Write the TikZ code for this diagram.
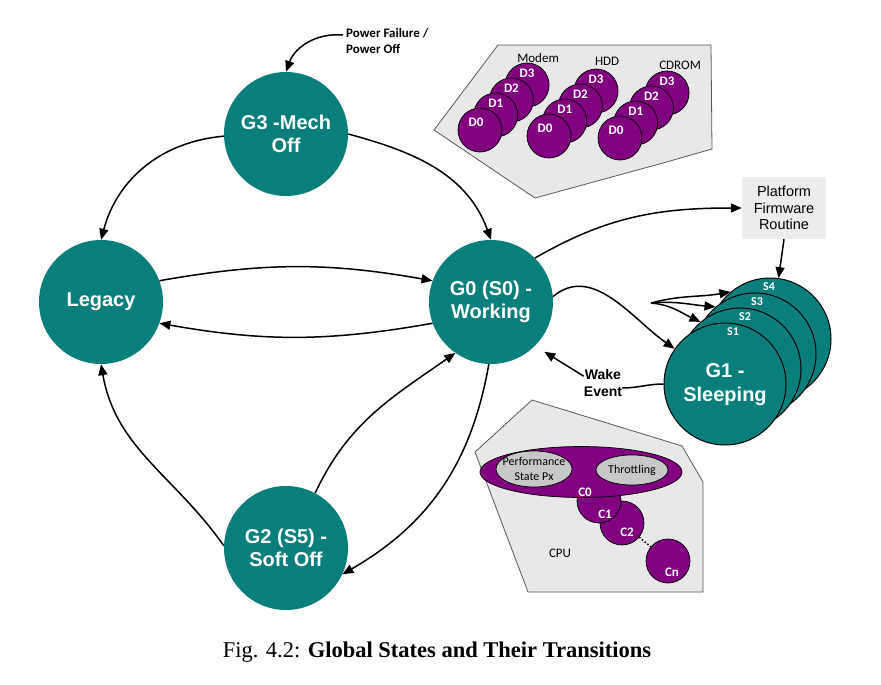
\documentclass[tikz,border=0pt]{standalone}
\usepackage{fontspec}
\setmainfont{Liberation Serif}
\newfontfamily\arialfont{Liberation Sans}
\newfontfamily\califont{Carlito}
\usetikzlibrary{arrows.meta,shapes.geometric,calc}

\definecolor{gteal}{RGB}{10,126,122}
\definecolor{dpurple}{RGB}{128,0,128}
\definecolor{panelgrey}{RGB}{232,232,232}
\definecolor{innergrey}{RGB}{200,200,200}
\definecolor{boxgrey}{RGB}{236,236,236}

\tikzset{
  gstate/.style={circle, fill=gteal, minimum size=124pt, inner sep=0pt, align=center,
    text=white, font=\arialfont\bfseries\fontsize{20}{23}\selectfont},
  sstate/.style={circle, draw=black, line width=1pt, fill=gteal, minimum size=122pt, inner sep=0pt},
  dstate/.style={circle, draw=black, line width=0.7pt, fill=dpurple, minimum size=44pt, inner sep=0pt},
  pstate/.style={ellipse, draw=black, line width=0.7pt, inner sep=0pt},
  wlabel/.style={text=white, inner sep=0pt, font=\califont\bfseries\fontsize{13}{15}\selectfont},
  blabel/.style={inner sep=0pt, font=\califont\fontsize{13}{15}\selectfont},
  panel/.style={draw=black!65, fill=panelgrey, line width=0.8pt},
  trans/.style={-{Triangle[length=11pt,width=9pt]}, line width=1.5pt},
}

\begin{document}
\begin{tikzpicture}[x=1pt,y=1pt]
\useasboundingbox (0,0) rectangle (881,-685);
\fill[white] (0,0) rectangle (881,-685);

% device power states
\draw[panel] (498,-45) -- (711,-45) -- (712,-149) -- (663,-163) -- (535,-198) -- (434,-130) -- cycle;
\foreach \grp/\x/\y in {modem/480/130, hdd/549/136, cdrom/620/138}{
  \foreach \k in {3,2,1,0}{
    \node[dstate] (\grp\k) at ({\x+15.7*\k},{-\y+15*\k}) {};
    \node[wlabel] at ($(\grp\k)+({-4+4*min(\k,1)},{8+4*min(\k,1)})$) {D\k};
  }
}
\node[blabel] at ($(modem3)+(11,27)$) {Modem};
\node[blabel] at ($(hdd3)+(11,30)$) {HDD};
\node[blabel] at ($(cdrom3)+(13,28)$) {CDROM};

% processor states
\draw[panel] (532,-400) -- (682,-446) -- (703,-482) -- (703,-592) -- (528,-592) -- (475,-452) -- cycle;
\node[dstate] (cn) at (668,-561) {};
\node[dstate] (c2) at (622,-523) {};
\node[dstate] (c1) at (599,-501) {};
\node[pstate, fill=dpurple, minimum width=202pt, minimum height=51pt] (c0) at (581,-472) {};
\node[pstate, fill=innergrey, minimum width=76pt, minimum height=36pt] (perf) at (534,-469) {};
\node[pstate, fill=innergrey, minimum width=72pt, minimum height=30pt] (throt) at (632,-470) {};
\node[blabel, align=center, font=\califont\fontsize{12}{15}\selectfont] at (perf) {Performance\\State Px};
\node[blabel, font=\califont\fontsize{12}{15}\selectfont] at (throt) {Throttling};
\node[wlabel] at ($(c0)+(4,-20)$) {C0};
\node[wlabel] at ($(c1)+(6,-13)$) {C1};
\node[wlabel] at ($(c2)+(5,-9)$) {C2};
\node[wlabel] at ($(cn)+(4,-11)$) {Cn};
\draw[dotted, line width=1.5pt] (c2) -- (cn);
\node[blabel] at (560,-553) {CPU};

% global states
\node[gstate] (g3) at (286,-134) {G3 -Mech\\Off};
\node[gstate] (legacy) at (101,-302) {Legacy};
\node[gstate] (g0) at (491,-302) {G0 (S0) -\\Working};
\node[gstate] (g2) at (286,-548) {G2 (S5) -\\Soft Off};

% sleeping states
\foreach \k in {4,3,2,1}{
  \node[sstate] (s\k) at ({725+15*(\k-1)},{-384+15*(\k-1)}) {};
  \node[wlabel, font=\califont\bfseries\fontsize{12}{14}\selectfont] at ($(s\k)+({11-3*\k},52)$) {S\k};
}
\node[text=white, align=center, font=\arialfont\bfseries\fontsize{20}{24}\selectfont] (g1) at (725,-385) {G1 -\\Sleeping};

\node[fill=boxgrey, minimum width=84pt, minimum height=62pt, inner sep=0pt, align=center,
  font=\arialfont\fontsize{14.5}{16.5}\selectfont] (plat) at (784,-208) {Platform\\Firmware\\Routine};
\node[align=center, inner sep=0pt, font=\arialfont\bfseries\fontsize{14}{17}\selectfont] (wake) at (603,-383) {Wake\\Event};
\node[align=left, inner sep=0pt, anchor=west, font=\califont\bfseries\fontsize{13}{16}\selectfont] (pwr) at (346,-41) {Power Failure /\\Power Off};
\coordinate (fan) at (651,-303);

% transitions
\draw[trans] ([shift={(-3,6)}]pwr.west) to[out=175,in=70] (g3.north);
\draw[trans] (g3.182) to[out=185,in=75] (legacy.north);
\draw[trans] (g3.east) to[out=-15,in=110] (g0.north);
\draw[trans] (legacy.20) to[out=10,in=170] (g0.160);
\draw[trans] (g0.200) to[out=190,in=-10] (legacy.-20);
\draw[trans] (g2.178) to[out=125,in=-80] (legacy.south);
\draw[trans] (g2.62) to[out=65,in=215] (g0.235);
\draw[trans] (g0.-92) to[out=-100,in=30] (g2.-25);
\draw[trans] (g0.45) to[out=30,in=180] (plat.west);
\draw[trans] (plat.south) -- (s4);
\draw[trans] (g0.5) to[out=40,in=145] (s1);
\draw[trans] (fan) to[out=15,in=190] (s4.130);
\draw[trans] (fan) to[out=5,in=175] (s3.130);
\draw[trans] (fan) to[out=-5,in=155] (s2.130);
\draw[line width=1.5pt] (s1.west) to[out=180,in=0] ([yshift=-5pt]wake.east);
\draw[trans, shorten >=11pt] ([yshift=-7pt]wake.north west) -- (g0.-45);

\node[anchor=base, font=\fontsize{22.5}{26}\selectfont] (cap) at (437,-657) {Fig. 4.2: \textbf{Global States and Their Transitions}};
\end{tikzpicture}
\end{document}
